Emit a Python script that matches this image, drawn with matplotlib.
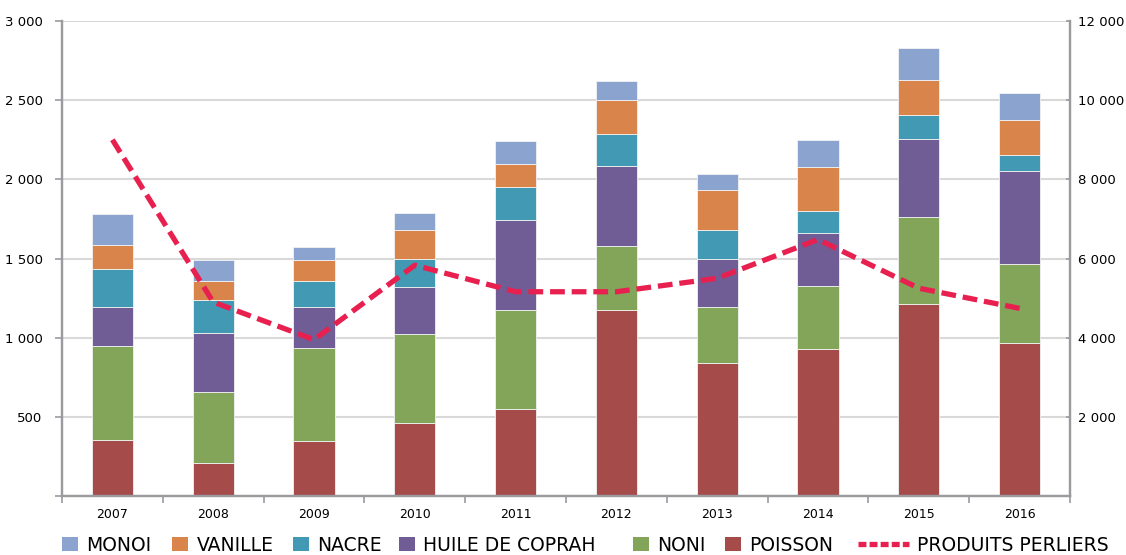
import matplotlib
matplotlib.use("Agg")
import matplotlib.pyplot as plt
import numpy as np
from matplotlib.ticker import FuncFormatter, FixedLocator
from matplotlib.patches import Patch
from matplotlib.lines import Line2D

years = ["2007", "2008", "2009", "2010", "2011", "2012", "2013", "2014", "2015", "2016"]

poisson = [352, 206, 349, 464, 551, 1174, 837, 926, 1210, 964]
noni = [593, 453, 585, 558, 623, 404, 356, 402, 549, 499]
huile = [246, 370, 257, 296, 571, 505, 305, 334, 497, 591]
nacre = [240, 211, 164, 181, 204, 202, 183, 135, 151, 97]
vanille = [152, 115, 135, 183, 151, 219, 249, 278, 221, 221]
monoi = [195, 135, 84, 107, 145, 118, 105, 172, 204, 172]

perliers = [9000, 4900, 3950, 5830, 5160, 5160, 5500, 6480, 5250, 4740]

series = [
    ("POISSON", poisson, "#A54C4B"),
    ("NONI", noni, "#82A55A"),
    ("HUILE DE COPRAH", huile, "#715D96"),
    ("NACRE", nacre, "#4299B3"),
    ("VANILLE", vanille, "#D9844A"),
    ("MONOI", monoi, "#8AA4CF"),
]
line_color = "#E8204F"
spine_color = "#9B9B9F"

plt.rcParams["font.family"] = ["DejaVu Sans"]

fig = plt.figure(figsize=(11.26, 5.55), dpi=100)
ax = fig.add_axes([62 / 1126, 59 / 555, (1070 - 62) / 1126, (496 - 21) / 555])
ax2 = ax.twinx()

x = np.arange(len(years))
bottom = np.zeros(len(years))
for name, vals, col in series:
    ax.bar(x, vals, width=0.41, bottom=bottom, color=col,
           edgecolor="#f2f2f2", linewidth=0.6, zorder=2)
    bottom += np.array(vals)

ax2.plot(x, perliers, color=line_color, lw=3.8, dashes=(2.8, 1.3),
         solid_capstyle="butt", zorder=3)

ax.set_xlim(-0.5, len(years) - 0.5)
ax.set_ylim(0, 3000)
ax2.set_ylim(0, 12000)

ax.set_yticks(np.arange(0, 3001, 500))
ax2.set_yticks(np.arange(0, 12001, 2000))

fmt = FuncFormatter(lambda v, p: "" if v == 0 else f"{int(v):,}".replace(",", " "))
ax.yaxis.set_major_formatter(fmt)
ax2.yaxis.set_major_formatter(fmt)

ax.set_xticks(x)
ax.set_xticklabels(years)
ax.xaxis.set_minor_locator(FixedLocator(np.arange(-0.5, len(years), 1)))
ax.tick_params(axis="x", which="major", length=0, pad=9, labelsize=9)
ax.tick_params(axis="x", which="minor", length=5, width=1.2, color=spine_color, direction="out")
ax.tick_params(axis="y", length=5, width=1.2, color=spine_color, pad=9, labelsize=9.5)
ax2.tick_params(axis="y", length=3, width=1.2, color=spine_color, pad=6, labelsize=9.5,
                direction="in")

ax.grid(axis="y", color="#D9D9D9", lw=1.5, zorder=0)
ax.set_axisbelow(True)

for a in (ax, ax2):
    a.spines["top"].set_visible(False)
    for s in ("left", "right", "bottom"):
        a.spines[s].set_color(spine_color)
        a.spines[s].set_linewidth(1.6)

ax.set_zorder(ax2.get_zorder() - 1)
ax2.patch.set_visible(False)
ax.patch.set_visible(True)

# legend, one entry at a time so the spacing follows the original
leg_font = {"family": ["DejaVu Sans"], "size": 13.5}
leg_x = [62, 172, 293, 399, 633, 725]
for (name, vals, col), lx in zip(reversed(series), leg_x):
    fig.legend(handles=[Patch(facecolor=col, edgecolor="none", label=name)],
               loc="center left", bbox_to_anchor=(lx / 1126, 0.018), frameon=False,
               prop=leg_font, handlelength=0.85, handleheight=0.85, handletextpad=0.45,
               borderpad=0, borderaxespad=0)
line_handle = Line2D([], [], color=line_color, lw=3.8, dashes=(1.5, 0.6))
fig.legend(handles=[line_handle], labels=["PRODUITS PERLIERS"], loc="center left",
           bbox_to_anchor=(858 / 1126, 0.018), frameon=False, prop=leg_font,
           handlelength=2.7, handletextpad=0.45, borderpad=0, borderaxespad=0)

fig.savefig("out.png", dpi=100)
